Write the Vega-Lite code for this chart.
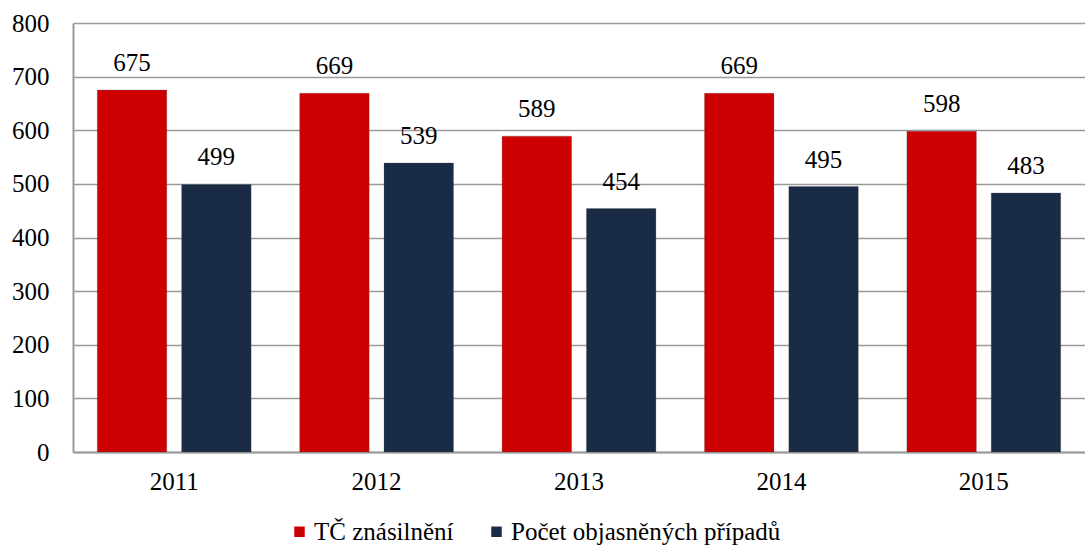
{
  "$schema": "https://vega.github.io/schema/vega-lite/v6.json",
  "autosize": "none",
  "width": 1012,
  "height": 429,
  "padding": {"left": 73, "top": 23, "right": 0, "bottom": 96},
  "background": "white",
  "config": {
    "font": "Times New Roman, Liberation Serif, serif",
    "view": {"stroke": null},
    "text": {"font": "Times New Roman, Liberation Serif, serif"},
    "axis": {"labelFont": "Times New Roman, Liberation Serif, serif", "labelColor": "black", "labelFontSize": 25},
    "legend": {"labelFont": "Times New Roman, Liberation Serif, serif"}
  },
  "data": {
    "values": [
      {"year": "2011", "series": "TČ znásilnění", "value": 675},
      {"year": "2011", "series": "Počet objasněných případů", "value": 499},
      {"year": "2012", "series": "TČ znásilnění", "value": 669},
      {"year": "2012", "series": "Počet objasněných případů", "value": 539},
      {"year": "2013", "series": "TČ znásilnění", "value": 589},
      {"year": "2013", "series": "Počet objasněných případů", "value": 454},
      {"year": "2014", "series": "TČ znásilnění", "value": 669},
      {"year": "2014", "series": "Počet objasněných případů", "value": 495},
      {"year": "2015", "series": "TČ znásilnění", "value": 598},
      {"year": "2015", "series": "Počet objasněných případů", "value": 483}
    ]
  },
  "encoding": {
    "x": {
      "field": "year", "type": "nominal", "title": null,
      "scale": {"paddingInner": 0.24, "paddingOuter": 0.12},
      "axis": {"labelAngle": 0, "ticks": false, "labelPadding": 17, "labelFont": "Times New Roman, Liberation Serif, serif", "labelFontSize": 25, "labelColor": "black", "domainColor": "#9a9a9a", "domainWidth": 2}
    },
    "xOffset": {
      "field": "series", "type": "nominal",
      "sort": ["TČ znásilnění", "Počet objasněných případů"],
      "scale": {"paddingInner": 0.176, "paddingOuter": 0}
    },
    "y": {
      "field": "value", "type": "quantitative", "title": null,
      "scale": {"domain": [0, 800], "nice": false},
      "axis": {"values": [0, 100, 200, 300, 400, 500, 600, 700, 800], "ticks": false, "labelPadding": 24, "labelFont": "Times New Roman, Liberation Serif, serif", "labelFontSize": 25, "labelColor": "black", "gridColor": "#9a9a9a", "gridWidth": 1.5, "domainColor": "#9a9a9a", "domainWidth": 2}
    }
  },
  "layer": [
    {
      "mark": {"type": "bar", "stroke": "#555555", "strokeWidth": 0.5, "strokeOpacity": 0.5},
      "encoding": {
        "color": {
          "field": "series", "type": "nominal",
          "sort": ["TČ znásilnění", "Počet objasněných případů"],
          "scale": {"domain": ["TČ znásilnění", "Počet objasněných případů"], "range": ["#cc0000", "#1a2b45"]},
          "legend": {
            "title": null, "orient": "none", "legendX": 214, "legendY": 496, "direction": "horizontal",
            "labelFont": "Times New Roman, Liberation Serif, serif", "labelFontSize": 25, "labelColor": "black", "labelLimit": 0,
            "symbolType": "square", "symbolSize": 110, "symbolStrokeWidth": 0,
            "columnPadding": 30, "labelOffset": 2
          }
        }
      }
    },
    {
      "mark": {"type": "text", "baseline": "bottom", "dy": -14, "fontSize": 25, "font": "Times New Roman, Liberation Serif, serif", "color": "black"},
      "encoding": {"text": {"field": "value", "type": "quantitative"}}
    }
  ]
}
